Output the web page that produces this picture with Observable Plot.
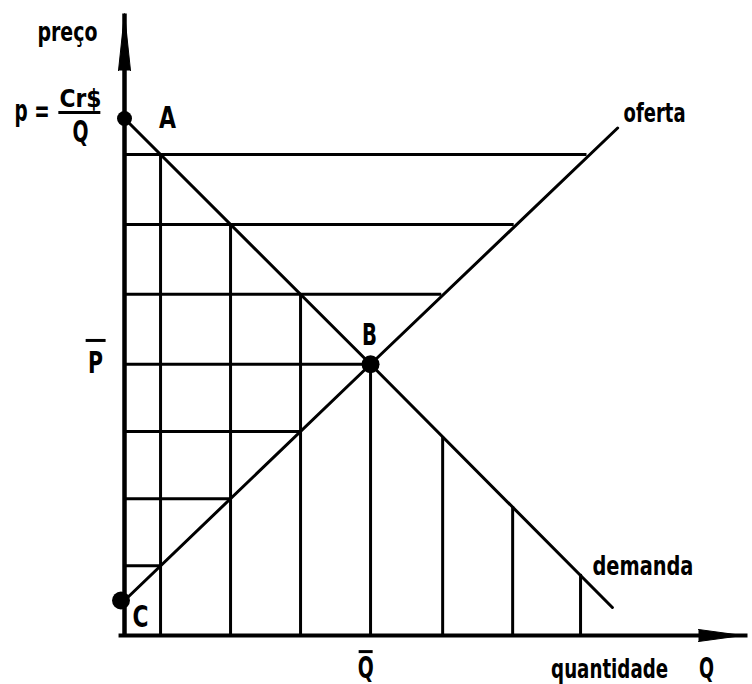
<!DOCTYPE html>
<html><head><meta charset="utf-8">
<script src="https://cdn.jsdelivr.net/npm/d3@7"></script>
<script src="https://cdn.jsdelivr.net/npm/@observablehq/plot@0.6"></script>
<style>body{margin:0;background:#fff}</style>
</head><body><div id="chart"></div>
<script>
// Demand and supply curves (quantity Q, price P)
const demandQ = [0, 7.03, 13.94];
const demandP = [14.77, 7.75, 0.8];
const supplyQ = [0, 7.03, 14.09];
const supplyP = [1.0, 7.75, 14.5];

// Vertical grid segments: from the demand curve down to the quantity axis
const verticalQ = [1.03, 3.03, 5.03, 7.03, 9.09, 11.09, 13.03];
const verticalTopP = [13.74, 11.74, 9.75, 7.75, 5.69, 3.70, 1.76];

// Horizontal grid segments: from the price axis to the supply curve
const horizontalP = [13.74, 11.74, 9.75, 7.75, 5.83, 3.91, 1.99];
const horizontalEndQ = [13.2, 11.12, 9.05, 7.03, 5.03, 3.03, 1.03];

// Marked points
const pointNames = ["A", "B", "C"];
const pointQ = [0, 7.03, -0.1];
const pointP = [14.77, 7.75, 1.0];
const pointR = [7.5, 9, 9];

// Text labels
const labelText = ["preço", "p =", "Cr$", "Q", "A", "P", "B", "C", "oferta", "demanda", "Q", "quantidade", "Q"];
const labelQ    = [-1.63, -2.14, -1.26, -1.26, 1.23, -0.83, 7.0, 0.46, 14.26, 13.37, 6.89, 13.86, 16.63];
const labelP    = [17.0, 14.71, 15.09, 14.09, 14.51, 7.51, 8.29, 0.23, 14.66, 1.74, -1.2, -1.2, -1.22];
const labelSize = [26, 30, 24, 30, 30, 30, 30, 30, 26, 27, 30, 26, 28];
const labelWidth = [60, 35, 42, 16, 17, 15, 15, 16, 62, 101, 16, 117, 15];
const labelAnchor = ["middle", "end", "middle", "middle", "middle", "middle", "middle", "middle", "start", "start", "middle", "middle", "middle"];

// Bars (fraction line and overlines)
const barQ1 = [-1.89, -1.11, 6.69];
const barQ2 = [-0.69, -0.54, 7.09];
const barP  = [14.94, 8.43, -0.46];

// Axis arrowheads (base position, direction)
const headQ = [0, 16.4];
const headP = [16.14, 0];
const headRotate = [0, 90];
const headLen = [57, 44];

const demand = demandQ.map((q, i) => ({q, p: demandP[i]}));
const supply = supplyQ.map((q, i) => ({q, p: supplyP[i]}));
const verticals = verticalQ.map((q, i) => ({q, top: verticalTopP[i]}));
const horizontals = horizontalP.map((p, i) => ({p, end: horizontalEndQ[i]}));
const points = pointNames.map((n, i) => ({n, q: pointQ[i], p: pointP[i], r: pointR[i]}));
const labels = labelText.map((t, i) => ({t, q: labelQ[i], p: labelP[i], s: labelSize[i], a: labelAnchor[i], w: labelWidth[i]}));
const bars = barP.map((p, i) => ({p, q1: barQ1[i], q2: barQ2[i]}));
const heads = headQ.map((q, i) => ({q, p: headP[i], rot: headRotate[i], len: headLen[i]}));

const font = "'Liberation Sans Narrow', 'DejaVu Sans Condensed', 'Arial Narrow', sans-serif";

const textMarks = labels.map(d => Plot.text([d], {
  x: "q", y: "p", text: "t", fontSize: d.s, textAnchor: d.a, lineAnchor: "bottom",
  fontWeight: "bold", fill: "black", fontFamily: font
}));

const chart = Plot.plot({
  width: 752,
  height: 684,
  marginLeft: 124,
  marginRight: 5,
  marginTop: 5,
  marginBottom: 49,
  x: {domain: [0, 17.8], axis: null},
  y: {domain: [0, 18], axis: null},
  r: {type: "identity"},
  length: {type: "identity"},
  style: {background: "white", overflow: "visible", fontFamily: font},
  marks: [
    Plot.link(horizontals, {x1: 0, y1: "p", x2: "end", y2: "p", stroke: "black", strokeWidth: 3}),
    Plot.link(verticals, {x1: "q", y1: 0, x2: "q", y2: "top", stroke: "black", strokeWidth: 3}),
    Plot.line(demand, {x: "q", y: "p", stroke: "black", strokeWidth: 3}),
    Plot.line(supply, {x: "q", y: "p", stroke: "black", strokeWidth: 3}),
    Plot.link([0], {x1: 0, y1: 0, x2: 0, y2: 17.77, stroke: "black", strokeWidth: 4.5}),
    Plot.link([0], {x1: -0.17, y1: 0, x2: 17.8, y2: 0, stroke: "black", strokeWidth: 4}),
    Plot.vector(heads, {x: "q", y: "p", rotate: "rot", length: "len", shape: "spike", r: 6, anchor: "start", fill: "black", stroke: "black", strokeWidth: 1}),
    Plot.dot(points, {x: "q", y: "p", r: "r", fill: "black"}),
    Plot.link(bars, {x1: "q1", y1: "p", x2: "q2", y2: "p", stroke: "black", strokeWidth: 3}),
    ...textMarks
  ]
});
// condense the bold labels to the widths they have in the picture
const texts = chart.querySelectorAll('g[aria-label="text"] text');
texts.forEach((el, i) => {
  if (labels[i]) {
    el.setAttribute("textLength", labels[i].w);
    el.setAttribute("lengthAdjust", "spacingAndGlyphs");
  }
});
document.getElementById("chart").appendChild(chart);
</script></body></html>
